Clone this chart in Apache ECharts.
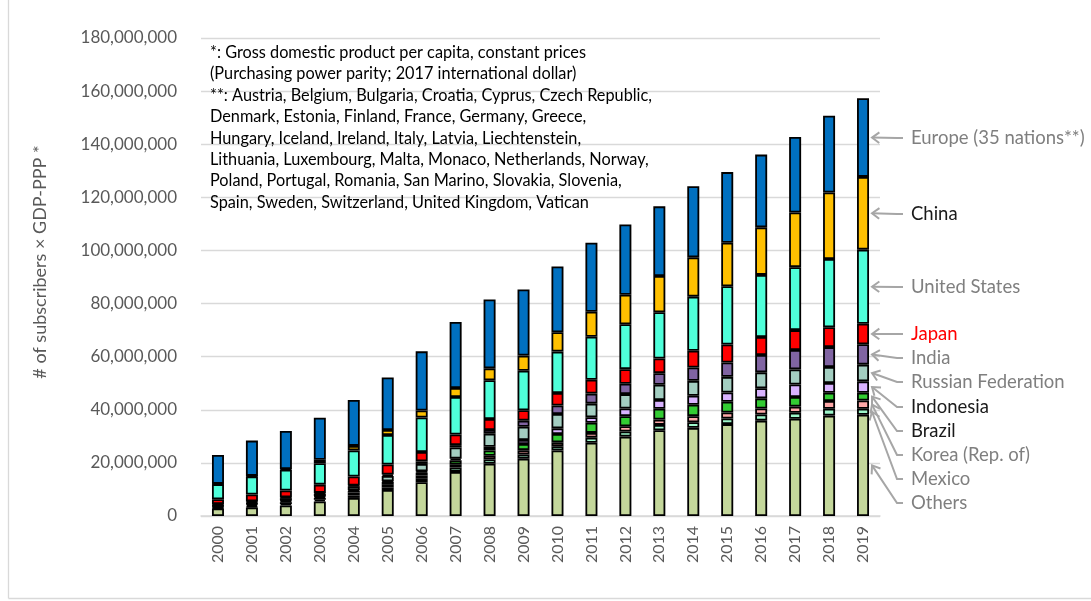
<!DOCTYPE html>
<html>
<head>
<meta charset="utf-8">
<script src="https://cdn.jsdelivr.net/npm/echarts@6/dist/echarts.min.js"></script>
<style>
html,body{margin:0;padding:0;background:#fff;}
#chart{width:1091px;height:601px;}
</style>
</head>
<body>
<div id="chart"></div>
<script>
// Categories
const years = ['2000','2001','2002','2003','2004','2005','2006','2007','2008','2009',
               '2010','2011','2012','2013','2014','2015','2016','2017','2018','2019'];

// Series values (millions of subscribers x GDP-PPP)
const others    = [2.8, 3.2, 4.0, 5.5, 6.8, 9.8, 12.7, 16.6, 19.7, 21.6, 24.7, 27.6, 29.9, 32.3, 33.2, 34.6, 35.9, 36.6, 37.8, 38.1];
const mexico    = [0.3, 0.4, 0.5, 0.6, 0.9, 1.0, 1.3, 1.6, 1.6, 1.6, 1.6, 1.9, 1.9, 2.0, 2.1, 2.1, 2.3, 2.3, 2.6, 2.3];
const korea     = [0.4, 0.6, 0.7, 0.7, 1.1, 1.2, 1.3, 1.3, 1.4, 1.6, 1.5, 1.8, 2.0, 2.0, 2.3, 2.3, 2.3, 2.3, 2.9, 3.1];
const brazil    = [0.3, 0.4, 0.5, 0.5, 0.7, 0.8, 1.1, 1.5, 2.0, 2.3, 3.1, 3.8, 3.8, 4.1, 4.3, 4.0, 3.8, 3.6, 3.1, 2.9];
const indonesia = [0.1, 0.1, 0.2, 0.2, 0.3, 0.3, 0.4, 0.6, 1.4, 1.5, 2.1, 2.1, 2.9, 3.3, 3.4, 3.5, 3.8, 4.7, 3.7, 4.3];
const russia    = [0.4, 0.5, 0.8, 0.9, 1.4, 2.0, 2.8, 4.2, 4.9, 5.0, 5.4, 5.1, 5.4, 5.7, 5.6, 5.9, 6.0, 5.7, 6.0, 6.3];
const india     = [0.2, 0.3, 0.3, 0.3, 0.3, 0.5, 1.0, 0.9, 1.4, 2.3, 3.2, 3.8, 3.9, 4.4, 5.0, 5.4, 6.5, 7.3, 7.5, 7.7];
const japan     = [1.8, 2.6, 2.6, 3.1, 3.4, 3.8, 3.5, 4.0, 4.1, 3.9, 4.7, 5.2, 5.5, 5.5, 6.3, 6.8, 6.8, 7.5, 7.5, 7.7];
const us        = [5.7, 6.8, 7.8, 8.1, 9.8, 11.1, 13.0, 14.1, 14.6, 14.9, 15.6, 16.2, 16.9, 17.4, 20.4, 21.9, 23.4, 23.7, 25.7, 27.9];
const china     = [0.1, 0.2, 0.3, 1.3, 1.7, 1.9, 2.6, 3.4, 4.5, 5.7, 7.3, 9.4, 11.1, 13.7, 14.8, 16.4, 17.9, 20.6, 25.0, 27.4];
const europe    = [10.9, 13.3, 14.3, 15.8, 17.3, 19.8, 22.3, 24.9, 25.9, 24.9, 24.8, 26.0, 26.5, 26.2, 26.8, 26.6, 27.4, 28.4, 28.9, 29.6];

const UNIT = 1e6;

// Series names (bottom to top)
const seriesNames = ['Others','Mexico','Korea (Rep. of)','Brazil','Indonesia','Russian Federation','India','Japan','United States','China','Europe (35 nations**)'];
const seriesData  = [others, mexico, korea, brazil, indonesia, russia, india, japan, us, china, europe];
const seriesColors = ['#C4D79B','#9EF7CB','#FFA9A9','#33CC33','#D9B3FF','#A3CEC1','#8064A2','#FF0000','#4FFFDA','#FFC000','#0070C0'];
const labelColors  = ['#7F7F7F','#7F7F7F','#7F7F7F','#1A1A1A','#1A1A1A','#7F7F7F','#7F7F7F','#FF0000','#7F7F7F','#1A1A1A','#7F7F7F'];
// label vertical positions on the right (annotation layout)
const labelY = [503, 479, 455, 431, 407, 382, 358, 334, 287, 214, 138];

const noteLines = [
  '*: Gross domestic product per capita, constant prices',
  '(Purchasing power parity; 2017 international dollar)',
  '**: Austria, Belgium, Bulgaria, Croatia, Cyprus, Czech Republic,',
  'Denmark, Estonia, Finland, France, Germany, Greece,',
  'Hungary, Iceland, Ireland, Italy, Latvia, Liechtenstein,',
  'Lithuania, Luxembourg, Malta, Monaco, Netherlands, Norway,',
  'Poland, Portugal, Romania, San Marino, Slovakia, Slovenia,',
  'Spain, Sweden, Switzerland, United Kingdom, Vatican'
];

const FONT = 'Lato, "Open Sans", sans-serif';

const chart = echarts.init(document.getElementById('chart'), null, {renderer:'canvas'});

const option = {
  animation: false,
  backgroundColor: '#fff',
  grid: {left: 201, right: 211, top: 38, bottom: 85, containLabel: false},
  xAxis: {
    type: 'category',
    data: years,
    axisTick: {show: false},
    axisLine: {lineStyle: {color: '#D9D9D9', width: 1.5}},
    axisLabel: {rotate: 90, color: '#595959', fontSize: 16, fontFamily: FONT, margin: 10}
  },
  yAxis: {
    type: 'value',
    min: 0, max: 180 * UNIT, interval: 20 * UNIT,
    axisLine: {show: false},
    axisTick: {show: false},
    splitLine: {lineStyle: {color: '#D9D9D9', width: 1.3}},
    axisLabel: {
      color: '#595959', fontSize: 17, fontFamily: FONT, margin: 24,
      formatter: v => Math.round(v).toLocaleString('en-US')
    }
  },
  series: seriesNames.map((name, i) => ({
    name: name,
    type: 'bar',
    stack: 'total',
    barWidth: 12,
    itemStyle: {color: seriesColors[i], borderColor: '#000', borderWidth: 1.8},
    data: seriesData[i].map(v => v * UNIT)
  }))
};
chart.setOption(option);

// Annotations
const graphics = [];
graphics.push({
  type: 'text', left: 210, top: 42, silent: true,
  style: {text: noteLines.join('\n'), fontSize: 16.3, fontFamily: FONT, fill: '#000', lineHeight: 21.4}
});
graphics.push({
  type: 'text', silent: true, x: 40, y: 262, rotation: Math.PI / 2,
  style: {text: '# of subscribers \u00D7 GDP-PPP *', fontSize: 18, fontFamily: FONT, fill: '#595959',
          align: 'center', verticalAlign: 'middle'}
});
// chart frame
graphics.push({type: 'line', silent: true, shape: {x1: 8.5, y1: 0, x2: 8.5, y2: 598.5}, style: {stroke: '#D9D9D9', lineWidth: 1.3}});
graphics.push({type: 'line', silent: true, shape: {x1: 8.5, y1: 598.5, x2: 1091, y2: 598.5}, style: {stroke: '#D9D9D9', lineWidth: 1.3}});

// arrows pointing to the last bar's segments
const last = years.length - 1;
let acc = 0;
const labelX = 911, endX = 903, elbowX = 897;
seriesData.forEach((arr, i) => {
  const v = arr[last];
  const mid = acc + v / 2;
  acc += v;
  const p = chart.convertToPixel({xAxisIndex: 0, yAxisIndex: 0}, [last, mid * UNIT]);
  const tipX = p[0] + 9, tipY = p[1];
  const ly = labelY[i];
  graphics.push({
    type: 'polyline', silent: true,
    shape: {points: [[tipX, tipY], [elbowX, ly], [endX, ly]]},
    style: {stroke: '#A6A6A6', lineWidth: 2, fill: null}
  });
  const ang = Math.atan2(ly - tipY, elbowX - tipX);
  const L = 9, spread = Math.PI / 5;
  graphics.push({
    type: 'polyline', silent: true,
    shape: {points: [
      [tipX + L * Math.cos(ang - spread), tipY + L * Math.sin(ang - spread)],
      [tipX, tipY],
      [tipX + L * Math.cos(ang + spread), tipY + L * Math.sin(ang + spread)]
    ]},
    style: {stroke: '#A6A6A6', lineWidth: 2, fill: null}
  });
  graphics.push({
    type: 'text', silent: true, x: labelX, y: ly,
    style: {text: seriesNames[i], fontSize: 18.5, fontFamily: FONT, fill: labelColors[i], verticalAlign: 'middle'}
  });
});
chart.setOption({graphic: graphics});
</script>
</body>
</html>
